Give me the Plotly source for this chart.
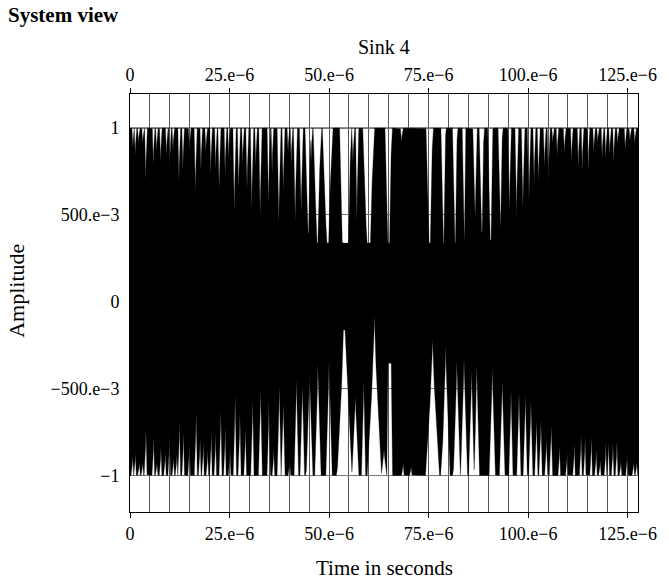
import numpy as np
import plotly.graph_objects as go

# ---------------- data ----------------
T_END_US = 127.6          # end of the record (microseconds)
AMP_HI, AMP_LO = 1.0, -1.0

# white gaps hanging down from +1: centre (us), lowest amplitude,
# half-width at +1 (us), half-width of the flat bottom (us)
top_t = [0.73, 1.31, 2.14, 3.21, 3.95, 5.86, 6.68, 7.67, 9.16, 9.98, 10.81, 12.30, 13.29, 14.94,
         16.43, 17.83, 19.06, 20.3, 21.5, 22.4, 23.9, 24.8, 26.2, 27.3, 28.3, 29.4, 30.6, 31.6,
         32.7, 34.8, 35.7, 37.4, 38.5, 39.7, 40.5, 41.5, 43.0, 44.7, 45.5, 47.0, 49.6, 54.1,
         56.0, 57.0, 59.9, 64.9, 68.2, 75.2, 78.7, 81.6, 83.9, 86.6, 88.3, 90.5, 93.0, 95.3,
         97.1, 98.7, 100.2, 101.5, 102.6, 104.1, 105.1, 106.2, 107.3, 109.1, 110.9, 112.6,
         113.6, 115.1, 116.5, 117.5, 118.6, 119.5, 120.5, 121.5, 122.5, 124.4, 125.6, 126.8]
top_v = [0.885, 0.837, 0.913, 0.904, 0.687, 0.779, 0.856, 0.798, 0.837, 0.750, 0.875, 0.693, 0.741, 0.856,
         0.616, 0.741, 0.856, 0.731, 0.760, 0.626, 0.721, 0.817, 0.511, 0.635, 0.788, 0.645, 0.530, 0.770,
         0.472, 0.558, 0.731, 0.453, 0.626, 0.856, 0.788, 0.443, 0.511, 0.395, 0.798, 0.338, 0.338, 0.338,
         0.800, 0.460, 0.338, 0.338, 0.920, 0.338, 0.338, 0.338, 0.345, 0.500, 0.400, 0.357, 0.424, 0.511,
         0.491, 0.530, 0.549, 0.673, 0.684, 0.770, 0.664, 0.913, 0.837, 0.846, 0.798, 0.760,
         0.750, 0.741, 0.856, 0.913, 0.817, 0.817, 0.837, 0.798, 0.904, 0.866, 0.923, 0.904]
top_w = [0.25, 0.25, 0.25, 0.25, 0.28, 0.25, 0.25, 0.25, 0.25, 0.25, 0.25, 0.28, 0.25, 0.25,
         0.32, 0.25, 0.25, 0.25, 0.25, 0.32, 0.25, 0.25, 0.36, 0.32, 0.25, 0.32, 0.36, 0.25,
         0.36, 0.36, 0.25, 0.45, 0.32, 0.25, 0.25, 0.45, 0.45, 0.75, 0.25, 1.0, 1.3, 1.45,
         0.3, 0.35, 1.45, 0.85, 0.3, 0.85, 0.6, 0.6, 0.45, 0.5, 0.6, 0.65, 0.55, 0.4,
         0.4, 0.4, 0.4, 0.3, 0.3, 0.28, 0.3, 0.25, 0.25, 0.25, 0.25, 0.25,
         0.25, 0.25, 0.25, 0.25, 0.25, 0.25, 0.25, 0.25, 0.25, 0.25, 0.25, 0.25]
top_f = [0, 0, 0, 0, 0, 0, 0, 0, 0, 0, 0, 0, 0, 0,
         0, 0, 0, 0, 0, 0, 0, 0, 0, 0, 0, 0, 0, 0,
         0, 0, 0, 0, 0, 0, 0, 0, 0, 0.15, 0, 0.2, 0.3, 0.8,
         0, 0, 0.5, 0.3, 0, 0.25, 0.15, 0.15, 0.1, 0.1, 0.15, 0.2, 0.1, 0,
         0, 0, 0, 0, 0, 0, 0, 0, 0, 0, 0, 0,
         0, 0, 0, 0, 0, 0, 0, 0, 0, 0, 0, 0]

# white gaps rising from -1: centre (us), highest amplitude,
# half-width at -1 (us), half-width of the flat top (us)
bot_t = [0.67, 1.34, 2.34, 3.18, 4.0, 5.93, 6.76, 7.76, 8.85, 9.93, 10.93, 11.76, 12.43, 13.43,
         14.93, 16.6, 17.6, 18.4, 19.5, 20.4, 21.5, 22.8, 23.9, 25.1, 26.4, 27.6, 29.0, 30.8,
         32.8, 34.9, 36.1, 37.5, 38.5, 40.1, 41.8, 43.3, 45.1, 47.2, 50.0, 53.9, 56.6, 58.7,
         61.4, 63.8, 65.3, 68.6, 70.6, 76.0, 79.3, 82.1, 83.9, 85.8, 87.1, 91.0, 93.5, 95.7,
         97.7, 99.3, 100.7, 102.1, 103.2, 104.6, 105.8, 107.9, 109.8, 111.6, 113.3, 114.3,
         115.9, 117.1, 118.1, 119.5, 120.2, 121.3, 122.3, 123.3, 124.9, 126.5, 127.3]
bot_v = [-0.881, -0.871, -0.919, -0.919, -0.716, -0.769, -0.923, -0.832, -0.861, -0.745, -0.894, -0.871, -0.687, -0.732,
         -0.793, -0.638, -0.774, -0.809, -0.852, -0.741, -0.755, -0.619, -0.725, -0.842, -0.532, -0.642, -0.722, -0.555,
         -0.493, -0.565, -0.842, -0.474, -0.571, -0.910, -0.439, -0.464, -0.386, -0.352, -0.315, -0.163, -0.532, -0.439,
         -0.077, -0.850, -0.354, -0.929, -0.949, -0.212, -0.241, -0.328, -0.309, -0.392, -0.367, -0.367, -0.439, -0.508,
         -0.512, -0.532, -0.565, -0.671, -0.671, -0.784, -0.701, -0.827, -0.861, -0.819, -0.761, -0.774,
         -0.769, -0.852, -0.910, -0.807, -0.807, -0.807, -0.793, -0.919, -0.861, -0.919, -0.919]
bot_w = [0.25, 0.25, 0.25, 0.25, 0.28, 0.25, 0.25, 0.25, 0.25, 0.25, 0.25, 0.25, 0.28, 0.25,
         0.25, 0.32, 0.25, 0.25, 0.25, 0.25, 0.25, 0.32, 0.25, 0.25, 0.36, 0.32, 0.28, 0.36,
         0.45, 0.36, 0.25, 0.45, 0.45, 0.25, 0.55, 0.55, 0.85, 0.8, 0.8, 1.9, 0.9, 0.5,
         1.8, 0.7, 0.65, 0.25, 0.25, 1.75, 1.1, 0.9, 0.9, 0.7, 0.7, 0.8, 0.7, 0.5,
         0.5, 0.5, 0.5, 0.36, 0.36, 0.32, 0.36, 0.25, 0.25, 0.25, 0.28, 0.25,
         0.25, 0.25, 0.25, 0.25, 0.25, 0.25, 0.25, 0.25, 0.25, 0.25, 0.25]
bot_f = [0, 0, 0, 0, 0, 0, 0, 0, 0, 0, 0, 0, 0, 0,
         0, 0, 0, 0, 0, 0, 0, 0, 0, 0, 0, 0, 0, 0,
         0, 0, 0, 0, 0, 0, 0, 0, 0, 0, 0, 0.3, 0, 0,
         0, 0, 0.5, 0, 0, 0, 0, 0, 0, 0, 0, 0, 0, 0,
         0, 0, 0, 0, 0, 0, 0, 0, 0, 0, 0, 0,
         0, 0, 0, 0, 0, 0, 0, 0, 0, 0, 0]

x_tickvals = [0, 25e-6, 50e-6, 75e-6, 100e-6, 125e-6]
x_ticktext = ["0", "25.e\u22126", "50.e\u22126", "75.e\u22126", "100.e\u22126", "125.e\u22126"]
x_minor_step = 5e-6
y_tickvals = [-1, -0.5, 0, 0.5, 1]
y_ticktext = ["\u22121", "\u2212500.e\u22123", "0", "500.e\u22123", "1"]

# ---------------- geometry of the black waveform band ----------------
CUSP = 0.75
t = np.linspace(0.0, T_END_US, 10001)
upper = np.full_like(t, AMP_HI)
lower = np.full_like(t, AMP_LO)


def gap_ratio(c, w, f):
    return np.clip((np.abs(t - c) - f) / (w - f), 0.0, None)


for c, d, w, f in zip(top_t, top_v, top_w, top_f):
    r = gap_ratio(c, w, f)
    m = r < 1
    upper[m] = np.minimum(upper[m], d + (AMP_HI - d) * r[m] ** CUSP)
for c, h, w, f in zip(bot_t, bot_v, bot_w, bot_f):
    r = gap_ratio(c, w, f)
    m = r < 1
    lower[m] = np.maximum(lower[m], h + (AMP_LO - h) * r[m] ** CUSP)
lower = np.minimum(lower, upper)

xs = np.concatenate([t, t[::-1]]) * 1e-6
ys = np.concatenate([upper, lower[::-1]])

FONT = "Liberation Serif"
fig = go.Figure()
fig.add_trace(go.Scatter(x=xs, y=ys, mode="lines", fill="toself", fillcolor="black",
                         line=dict(color="black", width=0.3), hoverinfo="skip", showlegend=False))
fig.add_trace(go.Scatter(x=[0], y=[0], xaxis="x2", mode="markers", opacity=0,
                         hoverinfo="skip", showlegend=False))

x_range = [0, T_END_US * 1e-6]
fig.update_layout(
    width=669, height=582,
    margin=dict(l=130, r=24, t=94, b=70),
    plot_bgcolor="white", paper_bgcolor="white",
    font=dict(family=FONT, size=18, color="black"),
    showlegend=False,
    title=dict(text="<b>System view</b>", x=8 / 669, xref="container", xanchor="left",
               y=1 - 15 / 582, yref="container", yanchor="middle",
               font=dict(family=FONT, size=21, color="black")),
    xaxis=dict(range=x_range, tickmode="array", tickvals=x_tickvals, ticktext=x_ticktext,
               ticks="outside", ticklen=5, tickcolor="black", showline=True, linecolor="black",
               linewidth=1, mirror=True, showgrid=True, gridcolor="#555", gridwidth=1,
               zeroline=False, minor=dict(dtick=x_minor_step, tick0=0, showgrid=True,
                                          gridcolor="#555", gridwidth=1, ticks=""),
               tickfont=dict(family=FONT, size=18)),
    xaxis2=dict(range=x_range, overlaying="x", side="top", tickmode="array",
                tickvals=x_tickvals, ticktext=x_ticktext, ticks="outside", ticklen=5,
                tickcolor="black", showgrid=False, zeroline=False, showline=False,
                tickfont=dict(family=FONT, size=18)),
    yaxis=dict(range=[-1.21, 1.196], tickmode="array", tickvals=y_tickvals, ticktext=y_ticktext,
               ticks="", showline=True, linecolor="black", linewidth=1, mirror=True,
               showgrid=True, gridcolor="#777", gridwidth=1, zeroline=False,
               ticklabelstandoff=6, tickfont=dict(family=FONT, size=18)),
)
for yv in (AMP_HI, AMP_LO):
    fig.add_shape(type="line", xref="paper", x0=0, x1=1, yref="y", y0=yv, y1=yv,
                  line=dict(color="black", width=1), layer="below")

fig.add_annotation(text="Sink 4", xref="paper", yref="paper", x=0.5, y=1.113,
                   showarrow=False, xanchor="center", yanchor="middle", font=dict(family=FONT, size=20))
fig.add_annotation(text="Time in seconds", xref="paper", yref="paper", x=0.5, y=-0.133,
                   showarrow=False, xanchor="center", yanchor="middle", font=dict(family=FONT, size=21))
fig.add_annotation(text="Amplitude", xref="paper", yref="paper", x=-0.2226, y=0.529,
                   showarrow=False, textangle=-90, xanchor="center", yanchor="middle",
                   font=dict(family=FONT, size=22))

fig.write_html("out.html")
